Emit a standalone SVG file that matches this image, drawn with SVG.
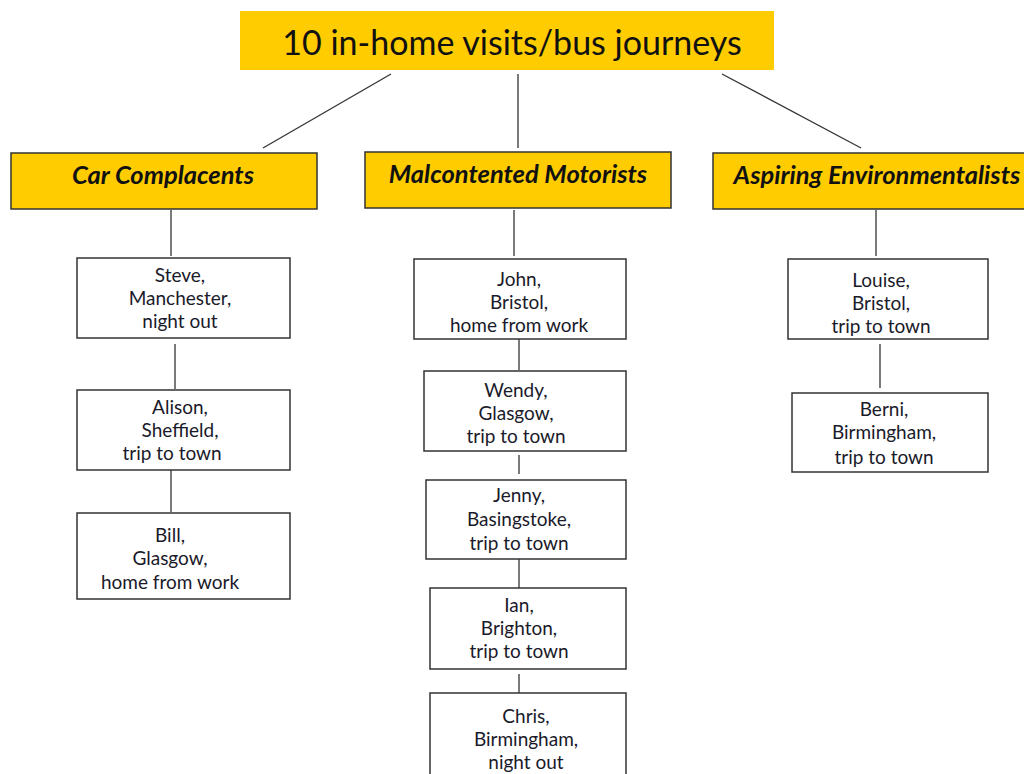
<svg xmlns="http://www.w3.org/2000/svg" width="1024" height="774" viewBox="0 0 1024 774">
<style>
.cat{fill:#FFCC00;stroke:#333;stroke-width:1.5}
.leaf{fill:#fff;stroke:#333;stroke-width:1.5}
.ct{font-family:Lato,"Liberation Sans",sans-serif;font-weight:bold;font-style:italic;font-size:25.5px;fill:#111;text-anchor:middle}
.lt{font-family:Lato,"Liberation Sans",sans-serif;font-size:19px;fill:#1a1a2a;text-anchor:middle}
#connectors line{stroke:#333;stroke-width:1.3}
</style>
<rect width="1024" height="774" fill="#fff"/>
<g id="connectors">
<line x1="391" y1="74" x2="263" y2="148"/>
<line x1="518" y1="74" x2="518" y2="148"/>
<line x1="722" y1="74" x2="861" y2="148"/>
<line x1="171" y1="210" x2="171" y2="256"/>
<line x1="175" y1="344" x2="175" y2="389"/>
<line x1="171" y1="470" x2="171" y2="512"/>
<line x1="514" y1="210" x2="514" y2="256"/>
<line x1="519" y1="339" x2="519" y2="370"/>
<line x1="519" y1="455" x2="519" y2="474"/>
<line x1="519" y1="559" x2="519" y2="588"/>
<line x1="519" y1="674" x2="519" y2="693"/>
<line x1="876" y1="210" x2="876" y2="256"/>
<line x1="880" y1="344" x2="880" y2="388"/>
</g>
<g id="root">
<rect x="240" y="11" width="534" height="59" fill="#FFCC00"/>
<text x="512" y="55" font-family="Lato,'Liberation Sans',sans-serif" font-size="34" fill="#111" text-anchor="middle">10 in-home visits/bus journeys</text>
</g>
<g id="car">
<rect class="cat" x="11" y="153" width="306" height="56"/>
<text class="ct" x="163" y="184">Car Complacents</text>
</g>
<g id="malcontented">
<rect class="cat" x="365" y="152" width="306" height="56"/>
<text class="ct" x="518" y="183">Malcontented Motorists</text>
</g>
<g id="aspiring">
<rect class="cat" x="713" y="153" width="320" height="56"/>
<text class="ct" x="877" y="184">Aspiring Environmentalists</text>
</g>
<g id="steve">
<rect class="leaf" x="77" y="258" width="213" height="80"/>
<text class="lt" x="180" y="282">Steve,</text>
<text class="lt" x="180" y="305">Manchester,</text>
<text class="lt" x="180" y="328">night out</text>
</g>
<g id="alison">
<rect class="leaf" x="77" y="390" width="213" height="80"/>
<text class="lt" x="180" y="414">Alison,</text>
<text class="lt" x="180" y="437">Sheffield,</text>
<text class="lt" x="172" y="460">trip to town</text>
</g>
<g id="bill">
<rect class="leaf" x="77" y="513" width="213" height="86"/>
<text class="lt" x="170" y="542">Bill,</text>
<text class="lt" x="170" y="565">Glasgow,</text>
<text class="lt" x="170" y="589">home from work</text>
</g>
<g id="john">
<rect class="leaf" x="414" y="259" width="212" height="80"/>
<text class="lt" x="519" y="286">John,</text>
<text class="lt" x="519" y="309">Bristol,</text>
<text class="lt" x="519" y="332">home from work</text>
</g>
<g id="wendy">
<rect class="leaf" x="424" y="371" width="202" height="80"/>
<text class="lt" x="516" y="397">Wendy,</text>
<text class="lt" x="516" y="420">Glasgow,</text>
<text class="lt" x="516" y="443">trip to town</text>
</g>
<g id="jenny">
<rect class="leaf" x="426" y="480" width="200" height="79"/>
<text class="lt" x="519" y="502">Jenny,</text>
<text class="lt" x="519" y="526">Basingstoke,</text>
<text class="lt" x="519" y="550">trip to town</text>
</g>
<g id="ian">
<rect class="leaf" x="430" y="588" width="196" height="81"/>
<text class="lt" x="519" y="612">Ian,</text>
<text class="lt" x="519" y="635">Brighton,</text>
<text class="lt" x="519" y="658">trip to town</text>
</g>
<g id="chris">
<rect class="leaf" x="430" y="693" width="196" height="90"/>
<text class="lt" x="526" y="723">Chris,</text>
<text class="lt" x="526" y="746">Birmingham,</text>
<text class="lt" x="526" y="769">night out</text>
</g>
<g id="louise">
<rect class="leaf" x="788" y="259" width="200" height="80"/>
<text class="lt" x="881" y="287">Louise,</text>
<text class="lt" x="881" y="310">Bristol,</text>
<text class="lt" x="881" y="333">trip to town</text>
</g>
<g id="berni">
<rect class="leaf" x="792" y="393" width="196" height="79"/>
<text class="lt" x="884" y="416">Berni,</text>
<text class="lt" x="884" y="439">Birmingham,</text>
<text class="lt" x="884" y="464">trip to town</text>
</g>
</svg>
